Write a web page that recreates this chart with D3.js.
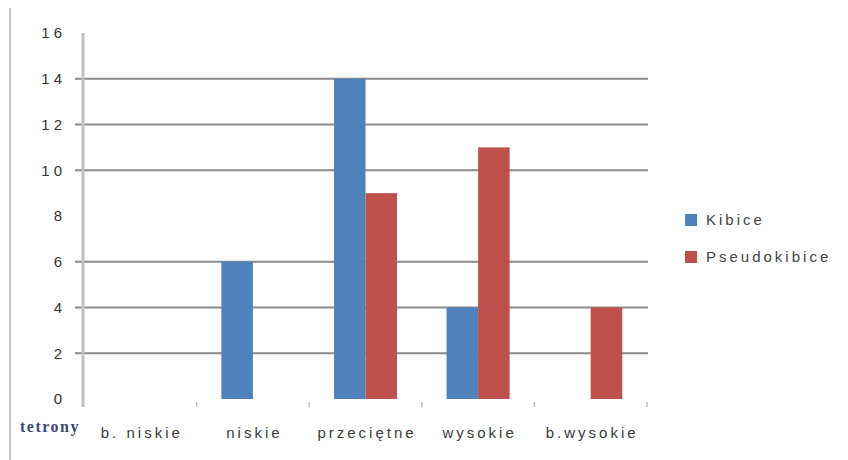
<!DOCTYPE html>
<html><head><meta charset="utf-8">
<script src="https://cdn.jsdelivr.net/npm/d3@7"></script>
<style>body{margin:0;background:#fff}svg{display:block}</style>
</head><body>
<script>
const categories = ["b. niskie", "niskie", "przeciętne", "wysokie", "b.wysokie"];
const kibice = [0, 6, 14, 4, 0];
const pseudokibice = [0, 0, 9, 11, 4];
const seriesNames = ["Kibice", "Pseudokibice"];
const yTicks = [0, 2, 4, 6, 8, 10, 12, 14, 16];
const gridValues = [2, 4, 6, 10, 12, 14];
const axisTitle = "tetrony";

const W = 848, H = 460;
const colors = ["#4F81BD", "#C0504D"];
const FONT = "Liberation Sans, Arial, sans-serif";
const svg = d3.select("body").append("svg").attr("width", W).attr("height", H);

// frame line on left
svg.append("line").attr("x1", 10).attr("x2", 10).attr("y1", 8).attr("y2", H)
  .attr("stroke", "#c4c4c4").attr("stroke-width", 2);

const x = d3.scaleBand().domain(categories).range([84, 647]).paddingInner(0).paddingOuter(0);
const y = d3.scaleLinear().domain([0, 16]).range([399, 33]);

// gridlines
svg.append("g").selectAll("line").data(gridValues).join("line")
  .attr("x1", 75).attr("x2", 648)
  .attr("y1", d => y(d)).attr("y2", d => y(d))
  .attr("stroke", "#8a8a8a").attr("stroke-width", 2);

// y-axis labels
svg.append("g").selectAll("text").data(yTicks).join("text")
  .attr("x", 66).attr("y", d => y(d)).attr("dy", "0.35em")
  .attr("text-anchor", "end")
  .attr("font-family", FONT).attr("font-size", 15).attr("letter-spacing", "4px")
  .attr("fill", "#333").text(d => d);

// bars
const bw = x.bandwidth() * 0.28;
const grp = svg.append("g");
categories.forEach((c, i) => {
  [kibice[i], pseudokibice[i]].forEach((v, s) => {
    if (v <= 0) return;
    const cx = x(c) + x.bandwidth() / 2;
    grp.append("rect")
      .attr("x", s === 0 ? cx - bw : cx)
      .attr("y", y(v)).attr("width", bw).attr("height", y(0) - y(v))
      .attr("fill", colors[s]);
  });
});

// y axis line
svg.append("line").attr("x1", 83).attr("x2", 83).attr("y1", 33).attr("y2", 407)
  .attr("stroke", "#c0c0c0").attr("stroke-width", 3);

// category tick marks
svg.append("g").selectAll("line").data(categories.slice(1).concat(["__end"])).join("line")
  .attr("x1", (d, i) => x.range()[0] + x.bandwidth() * (i + 1))
  .attr("x2", (d, i) => x.range()[0] + x.bandwidth() * (i + 1))
  .attr("y1", 402).attr("y2", 407)
  .attr("stroke", "#c0c0c0").attr("stroke-width", 1.5);

// category labels
svg.append("g").selectAll("text").data(categories).join("text")
  .attr("x", d => x(d) + x.bandwidth() / 2 + 1.5).attr("y", 438)
  .attr("text-anchor", "middle")
  .attr("font-family", FONT).attr("font-size", 15)
  .attr("letter-spacing", "3px")
  .attr("fill", "#3a3a3a").text(d => d);

// axis title
svg.append("text").attr("x", 20).attr("y", 432)
  .attr("font-family", "Liberation Serif, Times New Roman, serif").attr("font-size", 16)
  .attr("font-weight", "bold").attr("letter-spacing", "1.5px")
  .attr("fill", "#3b4a78").text(axisTitle);

// legend
const lg = svg.append("g");
seriesNames.forEach((n, i) => {
  const ly = 220 + i * 37;
  lg.append("rect").attr("x", 685).attr("y", ly - 6).attr("width", 12).attr("height", 12).attr("fill", colors[i]);
  lg.append("text").attr("x", 706).attr("y", ly).attr("dy", "0.35em")
    .attr("font-family", FONT).attr("font-size", 15).attr("letter-spacing", "3px")
    .attr("fill", "#444").text(n);
});
</script>
</body></html>
